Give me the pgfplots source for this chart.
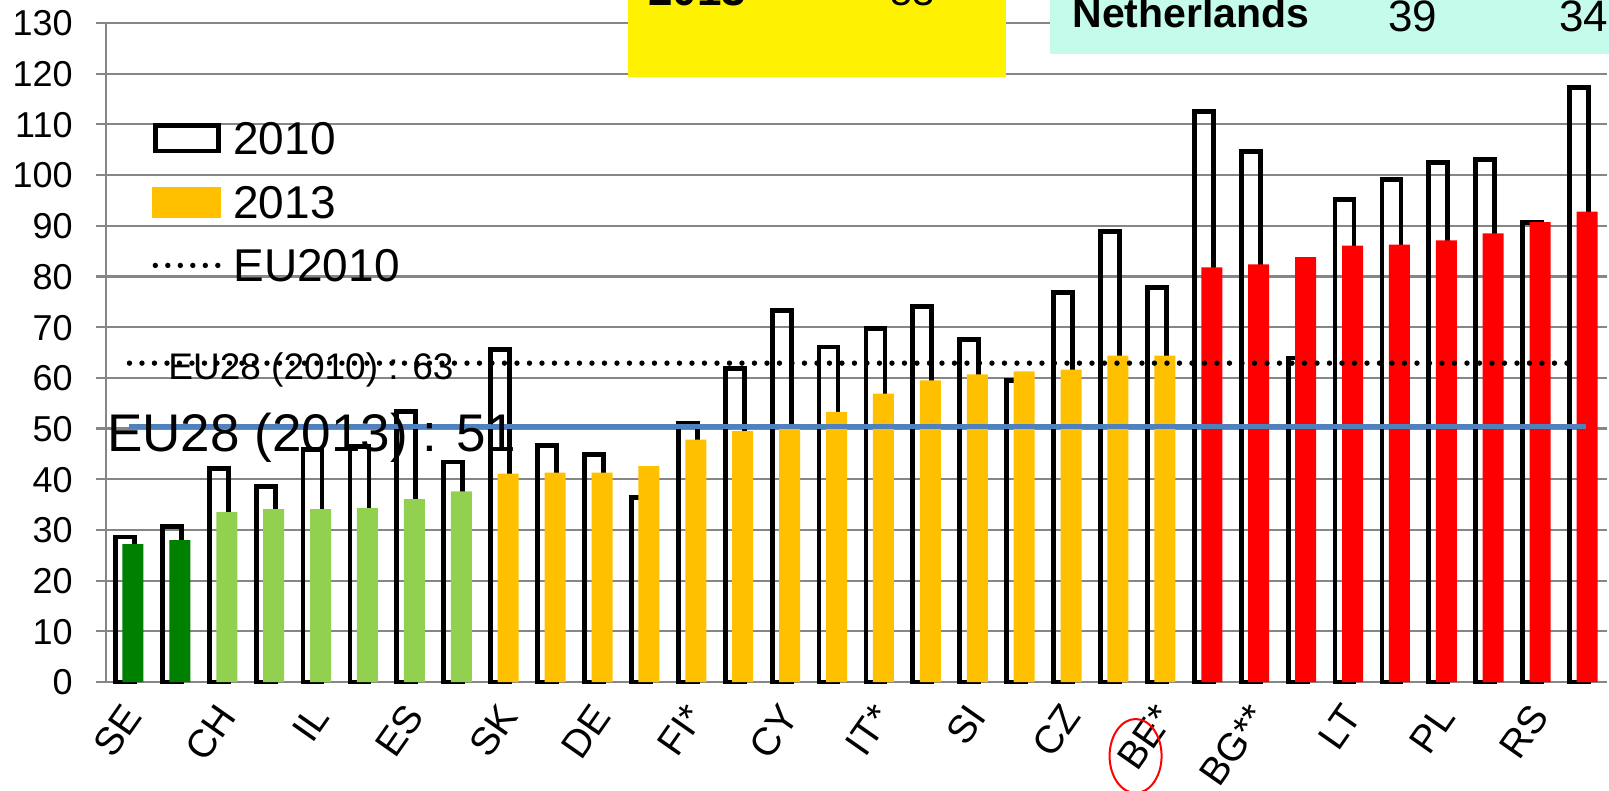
\documentclass[border=0pt]{standalone}
\usepackage{pgfplots}
\pgfplotsset{compat=1.18}
\usepackage{fontspec}
\setmainfont{Liberation Sans}
\definecolor{dkgreen}{HTML}{008000}
\definecolor{ltgreen}{HTML}{92D050}
\definecolor{amber}{HTML}{FFC000}
\definecolor{eublue}{HTML}{4F81BD}
\definecolor{gridgray}{HTML}{868686}
\definecolor{boxcyan}{HTML}{C4FBEB}
\begin{document}
\begin{tikzpicture}
\begin{axis}[
  at={(0,0)}, anchor=south west,
  scale only axis, width=750.5bp, height=329.5bp,
  xmin=0.5, xmax=32.5, ymin=0, ymax=130,
  axis x line*=bottom, axis y line*=left,
  axis line style={-, draw=gridgray, line width=1.1bp},
  ytick={0,10,...,130},
  ymajorgrids, major grid style={draw=gridgray, line width=1.1bp},
  ytick style={draw=gridgray, line width=1.1bp},
  tick align=outside, major tick length=5bp,
  xtick={1,...,32}, xtick style={draw=none},
  xticklabels={SE,{},CH,{},IL,{},ES,{},SK,{},DE,{},FI*,{},CY,{},IT*,{},SI,{},CZ,{},BE*,{},BG**,{},LT,{},PL,{},RS,{}},
  xticklabel style={xshift=1.5bp, yshift=-8.5bp, rotate=55, anchor=east, inner sep=0pt,
     font=\fontsize{19.5bp}{23bp}\selectfont, text height=14bp, text depth=0bp},
  yticklabel style={xshift=-11.5bp, anchor=east, inner sep=0pt,
     font=\fontsize{18bp}{21.6bp}\selectfont, text height=12.9bp, text depth=0bp},
  /pgf/number format/assume math mode=true,
  clip=false,
  legend cell align=left,
  legend style={at={(axis description cs:0.0306,0.8505)}, anchor=north west,
     draw=none, fill=none, inner sep=0pt, row sep=15.25bp, column sep=5bp,
     font=\fontsize{23bp}{26bp}\selectfont,
     nodes={inner sep=0pt, text height=16.5bp, text depth=0bp}},
]
% 2010 (outline bars)
\addplot[ybar, bar width=9.5bp, bar shift=-2.25bp, draw=black, line width=2.4bp, fill=none, forget plot]
coordinates {(1,28.6) (2,30.6) (3,42.1) (4,38.6) (5,45.8) (6,46.4) (7,53.3) (8,43.4)
 (9,65.6) (10,46.7) (11,44.9) (12,36.4) (13,51.1) (14,61.9) (15,73.3) (16,66.1)
 (17,69.7) (18,74.1) (19,67.5) (20,59.5) (21,76.8) (22,88.9) (23,77.8) (24,112.6)
 (25,104.7) (26,63.9) (27,95.2) (28,99.1) (29,102.5) (30,103.0) (31,90.7) (32,117.2)};
% 2013 (filled bars)
\addplot[ybar, bar width=10.5bp, bar shift=1.75bp, draw=none, fill=dkgreen, forget plot]
coordinates {(1,27.2) (2,28.0)};
\addplot[ybar, bar width=10.5bp, bar shift=1.75bp, draw=none, fill=ltgreen, forget plot]
coordinates {(3,33.5) (4,34.1) (5,34.1) (6,34.3) (7,36.1) (8,37.6)};
\addplot[ybar, bar width=10.5bp, bar shift=1.75bp, draw=none, fill=amber, forget plot]
coordinates {(9,41.1) (10,41.3) (11,41.3) (12,42.6) (13,47.8) (14,49.5) (15,50.0) (16,53.3)
 (17,56.9) (18,59.5) (19,60.7) (20,61.3) (21,61.6) (22,64.4) (23,64.4)};
\addplot[ybar, bar width=10.5bp, bar shift=1.75bp, draw=none, fill=red, forget plot]
coordinates {(24,81.8) (25,82.4) (26,83.8) (27,86.1) (28,86.3) (29,87.1) (30,88.5) (31,90.7) (32,92.8)};
% EU lines
\addplot[black, line width=2.7bp, line cap=round, dash pattern=on 0pt off 6.25bp, forget plot]
coordinates {(1,62.9) (31.8,62.9)};
\addplot[eublue, line width=2.5bp, forget plot]
coordinates {(1,50.5) (32.05,50.5)};
% legend
\addlegendimage{legend image code/.code={\draw[black,line width=2.4bp] (1.2bp,-6.3bp) rectangle (32.8bp,6.3bp);}}
\addlegendentry{2010}
\addlegendimage{legend image code/.code={\fill[amber] (0bp,-7.5bp) rectangle (34bp,7.5bp);}}
\addlegendentry{2013}
\addlegendimage{legend image code/.code={\draw[black,line width=2.7bp,line cap=round,dash pattern=on 0pt off 6.25bp] (1.3bp,0bp) -- (34bp,0bp);}}
\addlegendentry{EU2010}
% annotations
\node[anchor=base west, inner sep=0pt, font=\fontsize{18.5bp}{22bp}\selectfont] at (axis cs:1.822,59.6) {EU28 (2010) : 63};
\node[anchor=base west, inner sep=0pt, font=\fontsize{26.5bp}{30bp}\selectfont] at (axis cs:0.52,45.4) {EU28 (2013) : 51};
\draw[red, line width=1bp] (axis cs:22.45,-14.6) ellipse [x radius=13bp, y radius=18.5bp];
\end{axis}
% table fragments at the top
\fill[yellow] (261bp,302.5bp) rectangle (450bp,350bp);
\fill[boxcyan] (472bp,314bp) rectangle (760bp,350bp);
\node[anchor=base west, inner sep=0pt, font=\bfseries\fontsize{22bp}{24bp}\selectfont] at (271bp,338bp) {2013};
\node[anchor=base west, inner sep=0pt, font=\fontsize{20bp}{24bp}\selectfont] at (392bp,338bp) {53};
\node[anchor=base west, inner sep=0pt, font=\bfseries\fontsize{20.5bp}{24bp}\selectfont] at (483bp,327bp) {Netherlands};
\node[anchor=base west, inner sep=0pt, font=\fontsize{22bp}{24bp}\selectfont] at (641bp,325bp) {39};
\node[anchor=base west, inner sep=0pt, font=\fontsize{22bp}{24bp}\selectfont] at (726.5bp,325bp) {34};
\pgfresetboundingbox
\useasboundingbox (-53bp,-54.5bp) rectangle (751.5bp,341bp);
\end{tikzpicture}
\end{document}
